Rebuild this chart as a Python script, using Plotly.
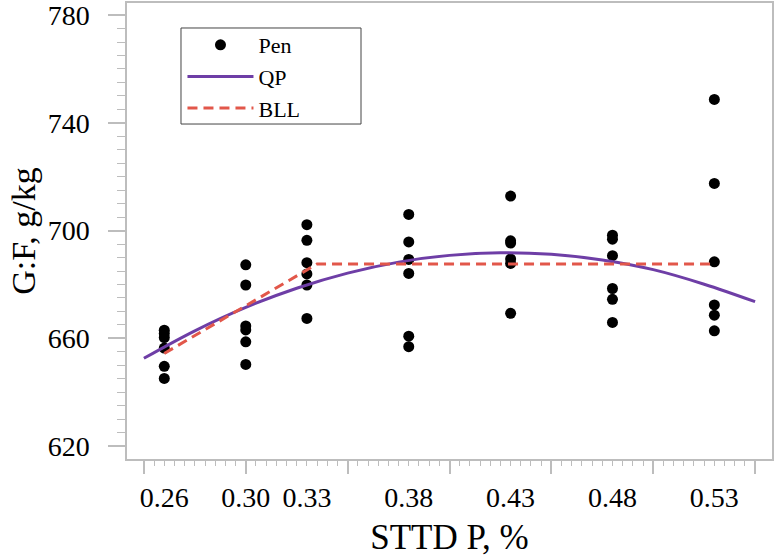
import plotly.graph_objects as go

# ---- data ----
levels = [0.26, 0.30, 0.33, 0.38, 0.43, 0.48, 0.53]
level_labels = ["0.26", "0.30", "0.33", "0.38", "0.43", "0.48", "0.53"]

pen_x = ([0.26] * 6 + [0.30] * 6 + [0.33] * 6 + [0.38] * 6 +
         [0.43] * 6 + [0.48] * 6 + [0.53] * 6)
pen_y = [663.0, 661.8, 660.3, 656.4, 649.6, 645.1,
         687.3, 679.8, 664.6, 663.1, 658.7, 650.3,
         702.2, 696.4, 688.1, 683.9, 679.8, 667.4,
         706.0, 695.8, 689.3, 684.1, 660.8, 656.9,
         712.8, 696.2, 695.4, 689.5, 687.8, 669.3,
         698.3, 696.8, 690.7, 678.5, 674.5, 665.9,
         748.7, 717.5, 688.4, 672.4, 668.6, 662.8]

qp_x = [0.25, 0.275, 0.30, 0.325, 0.35, 0.375, 0.40, 0.425, 0.45, 0.475, 0.50, 0.525, 0.55]
qp_y = [652.6, 662.8, 671.5, 678.6, 684.2, 688.3, 690.8, 691.8, 691.2, 689.1, 685.5, 680.1, 673.6]

bll_x = [0.26, 0.335, 0.53]
bll_y = [654.4, 687.6, 687.6]

FONT = "Liberation Serif, Times New Roman, serif"
AX = "#bdbdbd"

fig = go.Figure()
fig.add_trace(go.Scatter(x=pen_x, y=pen_y, mode="markers", name="Pen",
                         marker=dict(color="black", size=11)))
fig.add_trace(go.Scatter(x=qp_x, y=qp_y, mode="lines", name="QP",
                         line=dict(color="#6e3ea6", width=3, shape="spline")))
fig.add_trace(go.Scatter(x=bll_x, y=bll_y, mode="lines", name="BLL",
                         line=dict(color="#e2574a", width=3, dash="10px,6px")))
# carrier for the label axis
fig.add_trace(go.Scatter(x=[None], y=[None], xaxis="x2", showlegend=False,
                         hoverinfo="skip"))

xr = [0.2417, 0.5583]
yr = [615.2, 784.5]

fig.update_layout(
    width=776, height=560,
    margin=dict(l=127, r=4, t=3, b=101, autoexpand=False),
    paper_bgcolor="white", plot_bgcolor="white",
    font=dict(family=FONT, color="black"),
    showlegend=True,
    legend=dict(x=0.086, y=0.954, xanchor="left", yanchor="top",
                borderwidth=0, bgcolor="rgba(0,0,0,0)",
                font=dict(size=22, family=FONT), itemwidth=66,
                tracegroupgap=0),
    shapes=[dict(type="rect", xref="paper", yref="paper",
                 x0=0.0837, x1=0.3628, y0=0.7346, y1=0.9452,
                 line=dict(color="#444444", width=1), fillcolor="white",
                 layer="below")],
    xaxis=dict(range=xr, showgrid=False, zeroline=False, automargin=False,
               showline=True, mirror=True, linecolor=AX, linewidth=1.5,
               tickmode="array", tickvals=[0.25, 0.30, 0.35, 0.40, 0.45, 0.50, 0.55],
               ticks="outside", ticklen=13, tickcolor=AX, tickwidth=1.5,
               showticklabels=False,
               minor=dict(tickmode="array",
                          tickvals=[round(0.25 + 0.005 * i, 3) for i in range(61)],
                          ticks="outside", ticklen=5, tickcolor=AX, tickwidth=1)),
    xaxis2=dict(range=xr, overlaying="x", anchor="y", side="bottom",
                showgrid=False, zeroline=False, showline=False, automargin=False,
                tickmode="array", tickvals=levels, ticktext=level_labels,
                ticks="outside", ticklen=13, tickcolor="rgba(0,0,0,0)",
                ticklabeloverflow="allow",
                tickfont=dict(size=28, family=FONT, color="black"),
                title=dict(text="STTD P, %", font=dict(size=35, family=FONT),
                           standoff=12)),
    yaxis=dict(range=yr, showgrid=False, zeroline=False, automargin=False,
               showline=True, mirror=True, linecolor=AX, linewidth=1.5,
               tickmode="array", tickvals=[620, 660, 700, 740, 780],
               ticks="outside", ticklen=17, tickcolor=AX, tickwidth=1.5,
               tickfont=dict(size=28, family=FONT, color="black"),
               ticklabelstandoff=13, ticklabeloverflow="allow",
               minor=dict(tickmode="array",
                          tickvals=[620 + 5 * i for i in range(33)],
                          ticks="outside", ticklen=8, tickcolor=AX, tickwidth=1),
               title=dict(text="G:F, g/kg", font=dict(size=34, family=FONT),
                          standoff=2)),
)

fig.write_html("out.html",
               config={"displayModeBar": False},
               post_script="document.body.style.margin='0';"
                           "document.body.style.overflow='hidden';")
